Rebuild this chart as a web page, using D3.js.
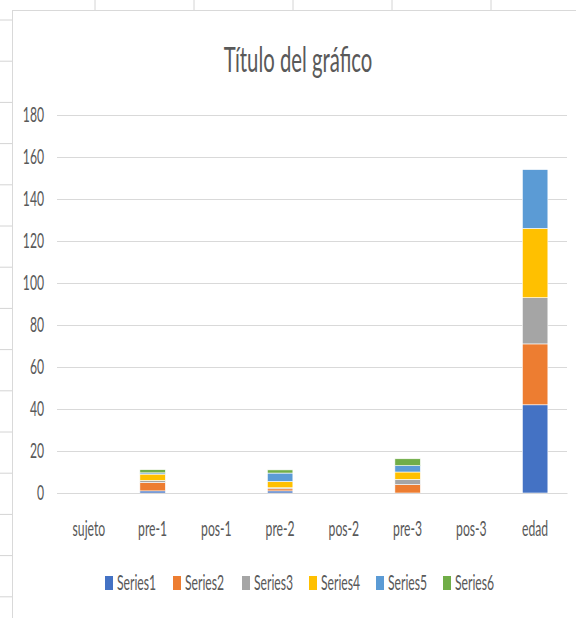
<!DOCTYPE html>
<html>
<head>
<meta charset="utf-8">
<script src="https://cdn.jsdelivr.net/npm/d3@7"></script>
<style>
  body { margin: 0; background: #fff; }
  svg { display: block; }
  text { font-family: Lato, "Open Sans", sans-serif; fill: #595959; }
</style>
</head>
<body>
<svg id="chart" width="576" height="618"></svg>
<script>
var categories = ['sujeto', 'pre-1', 'pos-1', 'pre-2', 'pos-2', 'pre-3', 'pos-3', 'edad'];
var seriesNames = ['Series1', 'Series2', 'Series3', 'Series4', 'Series5', 'Series6'];
var series1 = [0, 1, 0, 1, 0, 0, 0, 42];
var series2 = [0, 4, 0, 1, 0, 4, 0, 29];
var series3 = [0, 1, 0, 0.5, 0, 2.5, 0, 22];
var series4 = [0, 3, 0, 3, 0, 3.5, 0, 33];
var series5 = [0, 0.6, 0, 4, 0, 3, 0, 28];
var series6 = [0, 1.5, 0, 1.5, 0, 3.3, 0, 0];
var yTicks = [0, 20, 40, 60, 80, 100, 120, 140, 160, 180];
var colors = ['#4472C4', '#ED7D31', '#A5A5A5', '#FFC000', '#5B9BD5', '#70AD47'];

var sx = 0.58; // the screenshot is squeezed sideways, so are the glyphs
var svg = d3.select('#chart');

// build rows for d3.stack
var allSeries = [series1, series2, series3, series4, series5, series6];
var rows = categories.map(function(c, i) {
  var r = { cat: c };
  seriesNames.forEach(function(s, j) { r[s] = allSeries[j][i]; });
  return r;
});

// spreadsheet grid behind the chart
var sheet = svg.append('g').attr('class', 'sheet');
d3.range(20, 618, 41.2).forEach(function(y) {
  sheet.append('line').attr('x1', 0).attr('x2', 12).attr('y1', y).attr('y2', y)
    .style('stroke', '#d4d4d4').style('stroke-width', 1);
});
[95, 194, 293, 392, 491].forEach(function(x) {
  sheet.append('line').attr('x1', x).attr('x2', x).attr('y1', 0).attr('y2', 10)
    .style('stroke', '#d4d4d4').style('stroke-width', 1);
});
svg.append('rect').attr('x', 12.5).attr('y', 10.5).attr('width', 600).attr('height', 640)
  .style('fill', '#fff').style('stroke', '#d9d9d9').style('stroke-width', 1);

var x = d3.scaleBand().domain(categories).range([57, 567]).paddingInner(0.6).paddingOuter(0.3);
var y = d3.scaleLinear().domain([0, 180]).range([493, 115]);

function squeeze(sel) {
  sel.each(function() {
    var t = d3.select(this);
    var x0 = +t.attr('x') || 0;
    t.attr('x', x0 / sx).attr('transform', 'scale(' + sx + ',1)');
  });
}

// gridlines + y labels
var yAxis = svg.append('g')
  .attr('transform', 'translate(57,0)')
  .call(d3.axisLeft(y).tickValues(yTicks).tickSize(-510).tickPadding(13));
yAxis.select('.domain').remove();
yAxis.selectAll('line').style('stroke', '#d9d9d9').style('stroke-width', 1.2);
yAxis.selectAll('text').style('font-size', '21px').style('fill', '#595959')
  .style('font-family', 'Lato, sans-serif').call(squeeze);

// stacked bars
var stacked = d3.stack().keys(seriesNames)(rows);
svg.append('g').selectAll('g')
  .data(stacked).enter()
  .append('g').style('fill', function(d, i) { return colors[i]; })
  .selectAll('rect')
  .data(function(d) { return d; }).enter()
  .append('rect')
  .attr('x', function(d) { return x(d.data.cat); })
  .attr('y', function(d) { return y(d[1]); })
  .attr('width', x.bandwidth())
  .attr('height', function(d) { return y(d[0]) - y(d[1]); })
  .style('stroke', '#fff').style('stroke-width', 0.6)
  .style('display', function(d) { return d[1] - d[0] > 0 ? null : 'none'; });

// category axis
var xAxis = svg.append('g')
  .attr('transform', 'translate(0,493)')
  .call(d3.axisBottom(x).tickSize(0).tickPadding(28));
xAxis.select('.domain').style('stroke', '#d9d9d9').style('stroke-width', 1.2);
xAxis.selectAll('text').style('font-size', '21px').style('fill', '#595959')
  .style('font-family', 'Lato, sans-serif').call(squeeze);

// title
svg.append('g').attr('transform', 'translate(298,72)')
  .append('text')
  .attr('text-anchor', 'middle')
  .style('font-size', '35px')
  .text('Título del gráfico')
  .call(squeeze);

// legend
var legendX = [105, 173, 242, 309, 376, 443];
var leg = svg.append('g').selectAll('g')
  .data(seriesNames).enter()
  .append('g')
  .attr('transform', function(d, i) { return 'translate(' + legendX[i] + ',583)'; });
leg.append('rect')
  .attr('x', 0).attr('y', -7).attr('width', 8).attr('height', 14)
  .style('fill', function(d, i) { return colors[i]; });
leg.append('text')
  .attr('x', 12).attr('dy', '0.35em')
  .style('font-size', '21px')
  .text(function(d) { return d; })
  .call(squeeze);
</script>
</body>
</html>
